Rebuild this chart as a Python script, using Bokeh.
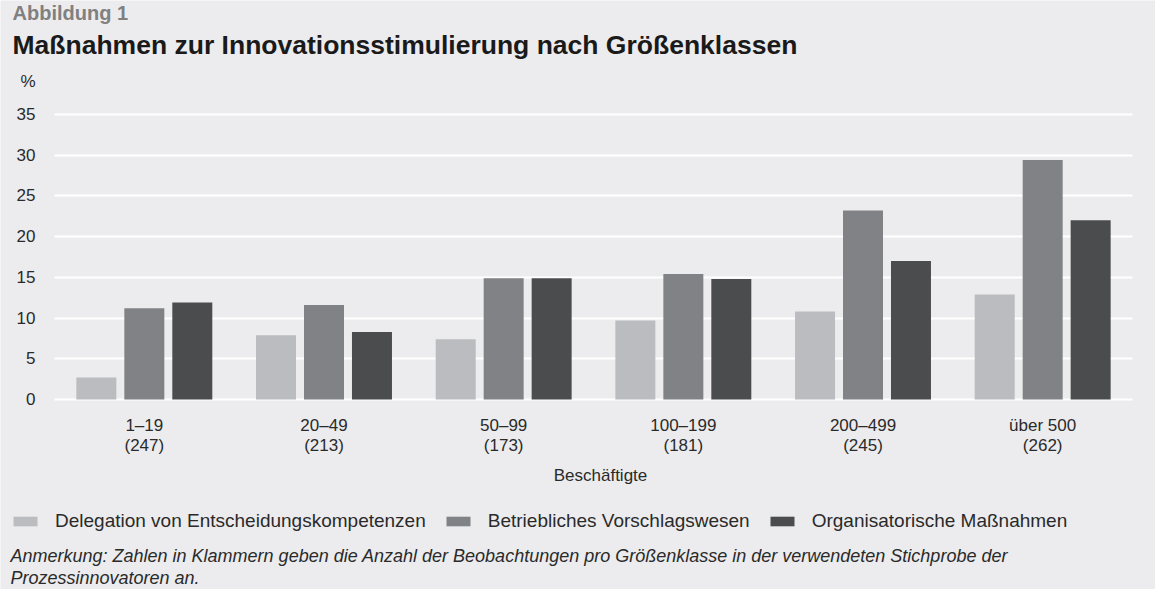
import numpy as np
from bokeh.plotting import figure
from bokeh.models import (Range1d, Legend, LegendItem, FixedTicker, ColumnDataSource,
                          LinearAxis, Label)
from bokeh.embed import file_html
from bokeh.resources import INLINE

# ---- data ----
size_classes = ["1–19", "20–49", "50–99", "100–199", "200–499", "über 500"]
observations = [247, 213, 173, 181, 245, 262]
delegation = [2.7, 7.9, 7.4, 9.7, 10.8, 12.9]
vorschlagswesen = [11.2, 11.6, 14.9, 15.4, 23.2, 29.4]
organisatorisch = [11.9, 8.3, 14.9, 14.8, 17.0, 22.0]
series_names = ["Delegation von Entscheidungskompetenzen",
                "Betriebliches Vorschlagswesen",
                "Organisatorische Maßnahmen"]
y_ticks = [0, 5, 10, 15, 20, 25, 30, 35]
unit_label = "%"
unit_pos = 39
note_lines = ["Anmerkung: Zahlen in Klammern geben die Anzahl der Beobachtungen pro Größenklasse in der verwendeten Stichprobe der",
              "Prozessinnovatoren an."]

BG = "#ececee"
COLORS = ["#bbbcbf", "#818286", "#4b4c4e"]
FONT = "Liberation Sans"
TXT = "#2a2a2a"
W, H = 1155, 589

# ---- layout geometry (pixels) ----
GROUP_PX = 179.67          # width of one size class
X0_PX = 143.83             # centre of first size class
ZERO_PX = 399.0            # y of the zero line
UNIT_PX = 8.143            # pixels per percentage point

def dx(px):   # canvas x -> data x
    return (px - X0_PX) / GROUP_PX

def dy(py):   # canvas y -> data y
    return (ZERO_PX - py) / UNIT_PX

p = figure(width=W, height=H, x_range=Range1d(dx(0), dx(W)), y_range=Range1d(dy(H), dy(0)),
           output_backend="svg", toolbar_location=None, min_border=0,
           background_fill_color=BG, border_fill_color=BG, outline_line_color=None)
p.xgrid.visible = False
p.ygrid.visible = False

# ---- bars ----
idx = np.arange(len(size_classes))
bw = 0.2226
off = 0.267
src = ColumnDataSource(dict(x_d=idx - off, x_v=idx, x_o=idx + off,
                            d=delegation, v=vorschlagswesen, o=organisatorisch))
renderers = []
for xc, col, colr in zip(["x_d", "x_v", "x_o"], ["d", "v", "o"], COLORS):
    r = p.vbar(x=xc, top=col, width=bw, source=src, fill_color=colr, line_color=None)
    renderers.append(r)

edge = -0.5                     # left edge of the first size class
right_edge = len(size_classes) - 0.5

# ---- x axis on the zero line ----
xa = p.xaxis[0]
xa.fixed_location = 0
xa.bounds = (edge, right_edge + 0.08)
xa.ticker = FixedTicker(ticks=list(idx))
xa.major_label_overrides = {int(i): f"{c}\n({n})" for i, c, n in zip(idx, size_classes, observations)}
xa.axis_line_color = None
xa.major_tick_line_color = None
xa.minor_tick_line_color = None
xa.major_tick_out = 0
xa.major_tick_in = 0
xa.major_label_text_font = FONT
xa.major_label_text_font_size = "17px"
xa.major_label_text_line_height = 1.1
xa.major_label_text_color = TXT
xa.major_label_standoff = 16
xa.axis_label = "Beschäftigte"
xa.axis_label_text_font = FONT
xa.axis_label_text_font_style = "normal"
xa.axis_label_text_font_size = "17px"
xa.axis_label_text_color = TXT
xa.axis_label_standoff = 8

# ---- y axis labels (with the unit on top) ----
ya = p.yaxis[0]
ya.fixed_location = edge
ya.ticker = FixedTicker(ticks=y_ticks + [unit_pos])
ya.major_label_overrides = {unit_pos: unit_label}
ya.axis_line_color = None
ya.major_tick_line_color = None
ya.minor_tick_line_color = None
ya.major_tick_out = 0
ya.major_tick_in = 0
ya.major_label_text_font = FONT
ya.major_label_text_font_size = "17px"
ya.major_label_text_color = TXT
ya.major_label_standoff = 19

# ---- horizontal grid lines: long white ticks of an underlay axis ----
grid_axis = LinearAxis(fixed_location=edge, bounds=(y_ticks[0], y_ticks[-1]),
                       ticker=FixedTicker(ticks=y_ticks), level="underlay",
                       axis_line_color=None, minor_tick_line_color=None,
                       major_label_text_color=None, major_tick_out=0,
                       major_tick_in=int(round(GROUP_PX * len(size_classes))),
                       major_tick_line_color="white", major_tick_line_width=2)
p.add_layout(grid_axis, "left")

# ---- texts ----
def lab(px, py, text, size, style="normal", color=TXT):
    p.add_layout(Label(x=dx(px), y=dy(py), text=text, text_font=FONT, text_font_size=size,
                       text_font_style=style, text_color=color,
                       text_baseline="middle", text_align="left"))

lab(12, 12, "Abbildung 1", "20px", "bold", "#808080")
lab(12, 44, "Maßnahmen zur Innovationsstimulierung nach Größenklassen", "26.5px", "bold", "#1a1a1a")
lab(10, 555, note_lines[0], "18px", "italic")
lab(10, 577, note_lines[1], "18px", "italic")

# ---- legend ----
legend = Legend(items=[LegendItem(label=n, renderers=[r]) for n, r in zip(series_names, renderers)],
                orientation="horizontal", location=(10, 57),
                background_fill_alpha=0, border_line_color=None, padding=0, margin=0,
                spacing=17, label_standoff=15, glyph_width=30, glyph_height=12,
                label_height=20, label_text_font=FONT, label_text_font_size="19px",
                label_text_color=TXT)
p.add_layout(legend)

open("out.html", "w").write(file_html(p, INLINE))
